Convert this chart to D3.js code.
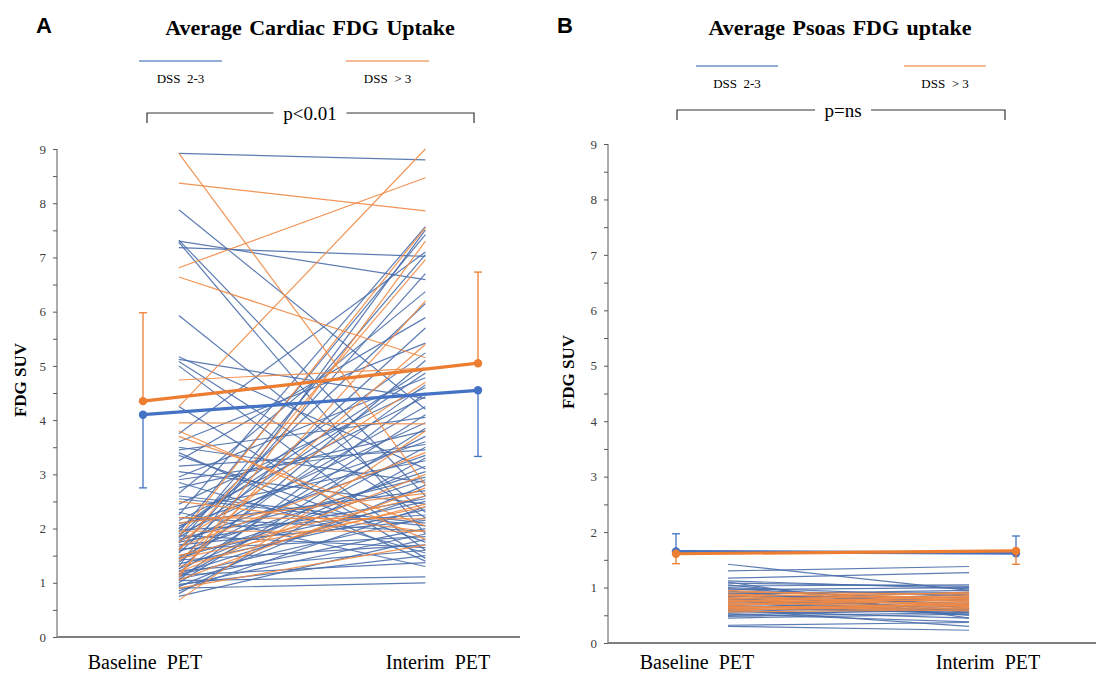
<!DOCTYPE html>
<html>
<head>
<meta charset="utf-8">
<script src="https://cdn.jsdelivr.net/npm/d3@7"></script>
<style>
  body { margin: 0; background: #fff; }
  svg text { font-family: "Liberation Serif", "Times New Roman", serif; }
</style>
</head>
<body>
<svg id="chart" width="1096" height="675"></svg>
<script>
// ---- data ----
var timepoints = ['Baseline  PET', 'Interim  PET'];
var groups = ['DSS  2-3', 'DSS  > 3'];
var yTicks = [0, 1, 2, 3, 4, 5, 6, 7, 8, 9];

// cardiac: [baseline, interim] per patient
var cardiacBlue = [
  [8.92, 8.80], [7.88, 4.20], [7.32, 2.60], [7.30, 6.59], [7.28, 1.90], [7.18, 7.02],
  [5.93, 2.30], [5.17, 3.10], [5.12, 4.40], [5.08, 2.20], [5.00, 1.60], [4.25, 1.45],
  [3.75, 7.10], [3.60, 5.42], [3.50, 2.85], [3.45, 4.05], [3.35, 1.75], [3.25, 5.89],
  [3.15, 3.45], [3.05, 2.45], [2.95, 4.78], [2.85, 1.55], [2.75, 3.80], [2.65, 6.37],
  [2.55, 2.05], [2.45, 4.60], [2.35, 3.25], [2.25, 7.57], [2.20, 1.95], [2.15, 4.43],
  [2.10, 2.70], [2.05, 3.60], [2.00, 5.24], [1.97, 2.25], [1.93, 7.42], [1.90, 3.95],
  [1.87, 1.65], [1.83, 4.87], [1.80, 2.95], [1.77, 3.35], [1.73, 7.05], [1.70, 2.15],
  [1.66, 4.25], [1.62, 1.85], [1.58, 3.05], [1.55, 5.70], [1.50, 2.50], [1.46, 3.70],
  [1.42, 1.70], [1.38, 4.65], [1.35, 2.35], [1.30, 7.51], [1.26, 3.15], [1.22, 1.60],
  [1.20, 4.10], [1.17, 2.60], [1.14, 1.37], [1.10, 3.50], [1.07, 2.00], [1.04, 1.11],
  [1.00, 3.85], [0.97, 1.50], [0.93, 2.80], [0.90, 1.00], [0.85, 2.40], [0.80, 3.30],
  [0.75, 1.80], [2.00, 4.95], [1.85, 6.15], [1.45, 2.90], [1.25, 5.10], [1.05, 4.50],
  [2.60, 2.10], [3.40, 1.40], [2.30, 1.30], [1.60, 6.70], [2.90, 3.55], [1.15, 2.20],
  [0.95, 1.90], [1.75, 2.55]
];
var cardiacOrange = [
  [8.92, 2.80], [8.37, 7.86], [4.25, 9.00], [6.81, 8.47], [6.64, 5.15], [4.74, 4.96],
  [3.95, 3.93], [3.80, 1.80], [2.20, 2.18], [1.95, 1.95], [1.85, 7.55], [1.60, 6.96],
  [1.50, 2.60], [1.40, 5.40], [1.30, 2.45], [1.20, 3.00], [1.10, 7.30], [0.68, 3.80],
  [1.75, 4.70], [2.10, 2.65], [1.15, 6.20], [2.50, 1.95], [1.05, 2.75], [1.65, 3.40],
  [3.70, 2.05], [1.45, 2.40], [0.90, 1.70]
];
var cardiacMeanBlue = [4.10, 4.55];
var cardiacErrBlue = [2.75, 3.33];
var cardiacMeanOrange = [4.35, 5.05];
var cardiacErrOrange = [5.98, 6.73];

// psoas
var psoasBlue = [
  [1.42, 0.95], [1.30, 1.38], [1.17, 1.27], [1.12, 0.98], [1.08, 1.02], [1.05, 0.62],
  [1.03, 1.05], [1.00, 0.85], [0.98, 0.75], [0.96, 1.00], [0.94, 0.55], [0.92, 0.90],
  [0.90, 0.70], [0.88, 0.95], [0.86, 0.60], [0.84, 0.82], [0.82, 0.50], [0.80, 0.78],
  [0.78, 0.92], [0.76, 0.65], [0.74, 0.72], [0.72, 0.58], [0.70, 0.88], [0.68, 0.52],
  [0.66, 0.68], [0.64, 0.80], [0.62, 0.55], [0.60, 0.62], [0.58, 0.45], [0.56, 0.70],
  [0.54, 0.58], [0.52, 0.38], [0.50, 0.62], [0.48, 0.55], [0.45, 0.52], [0.32, 0.37],
  [0.30, 0.23], [0.60, 0.30], [1.10, 0.45]
];
var psoasOrange = [
  [0.92, 0.88], [0.88, 0.80], [0.85, 0.90], [0.82, 0.75], [0.80, 0.85], [0.78, 0.70],
  [0.76, 0.82], [0.74, 0.78], [0.72, 0.66], [0.70, 0.74], [0.68, 0.80], [0.66, 0.62],
  [0.64, 0.70], [0.62, 0.68], [0.60, 0.64], [0.58, 0.72], [0.56, 0.60], [0.86, 0.66],
  [0.75, 0.92], [0.65, 0.58], [0.95, 0.76], [0.70, 0.84]
];
var psoasMeanBlue = [1.65, 1.62];
var psoasErrBlue = [1.97, 1.93];
var psoasMeanOrange = [1.61, 1.66];
var psoasErrOrange = [1.43, 1.42];

var BLUE = '#4472c4', ORANGE = '#ed7d31';
var LINE_BLUE = '#4a6eab', LINE_ORANGE = '#f08a45';

var svg = d3.select('#chart');

var panels = [
  {
    letter: 'A', letterX: 36, title: 'Average Cardiac FDG Uptake', titleX: 310,
    pText: 'p<0.01', pX: 310, bracket: [147, 474], bracketY: 113,
    legendY: 61, legend: [[139, 222], [346, 429]],
    axisX: 57, axisEnd: 520, yTop: 149, yBottom: 637, yLabel: [20, 380],
    meanX: [143, 478], lineSpan: [0.107, 0.843], labelX: [145, 438],
    blue: cardiacBlue, orange: cardiacOrange,
    meanBlue: cardiacMeanBlue, errBlue: cardiacErrBlue,
    meanOrange: cardiacMeanOrange, errOrange: cardiacErrOrange
  },
  {
    letter: 'B', letterX: 557, title: 'Average Psoas FDG uptake', titleX: 840,
    pText: 'p=ns', pX: 843, bracket: [677, 1005], bracketY: 110,
    legendY: 66, legend: [[696, 778], [904, 986]],
    axisX: 608, axisEnd: 1096, yTop: 144, yBottom: 643, yLabel: [568, 372],
    meanX: [676, 1016], lineSpan: [0.153, 0.862], labelX: [697, 988],
    blue: psoasBlue, orange: psoasOrange,
    meanBlue: psoasMeanBlue, errBlue: psoasErrBlue,
    meanOrange: psoasMeanOrange, errOrange: psoasErrOrange
  }
];

panels.forEach(drawPanel);

function drawPanel(p) {
  var g = svg.append('g');
  var y = d3.scaleLinear().domain([0, 9]).range([p.yBottom, p.yTop]);
  var x = d3.scaleLinear().domain([0, 1]).range(p.meanX);

  // header
  g.append('text').attr('x', p.letterX).attr('y', 33)
    .style('font-family', '"Liberation Sans", Arial, sans-serif')
    .style('font-weight', 'bold').style('font-size', '22px')
    .text(p.letter);
  g.append('text').attr('x', p.titleX).attr('y', 35)
    .attr('text-anchor', 'middle')
    .style('font-weight', 'bold').style('font-size', '22px')
    .style('word-spacing', '2px')
    .text(p.title);

  // legend
  p.legend.forEach(function(seg, i) {
    g.append('line')
      .attr('x1', seg[0]).attr('x2', seg[1])
      .attr('y1', p.legendY).attr('y2', p.legendY)
      .style('stroke', i === 0 ? '#6f93c9' : '#f0a36c')
      .style('stroke-width', 1.5);
    g.append('text')
      .attr('x', (seg[0] + seg[1]) / 2).attr('y', p.legendY + 22)
      .attr('text-anchor', 'middle')
      .style('font-size', '13px')
      .style('white-space', 'pre')
      .text(groups[i]);
  });

  // significance bracket
  var pw = p.pText.length * 8.5 + 22;
  g.append('path')
    .attr('d', 'M' + p.bracket[0] + ',' + (p.bracketY + 10) + 'V' + p.bracketY + 'H' + (p.pX - pw / 2))
    .style('fill', 'none').style('stroke', '#333').style('stroke-width', 1.2);
  g.append('path')
    .attr('d', 'M' + (p.pX + pw / 2) + ',' + p.bracketY + 'H' + p.bracket[1] + 'V' + (p.bracketY + 10))
    .style('fill', 'none').style('stroke', '#333').style('stroke-width', 1.2);
  g.append('text').attr('x', p.pX).attr('y', p.bracketY + 7)
    .attr('text-anchor', 'middle')
    .style('font-size', '19px')
    .text(p.pText);

  // axes
  var yAxis = d3.axisLeft(y)
    .tickValues(d3.range(0, 9.01, 0.5))
    .tickSize(4)
    .tickPadding(7)
    .tickFormat(function(d) { return yTicks.indexOf(d) >= 0 ? d : ''; });
  var ya = g.append('g').attr('transform', 'translate(' + p.axisX + ',0)').call(yAxis);
  ya.select('.domain').attr('d', 'M0,' + p.yTop + 'V' + p.yBottom).style('stroke', '#595959');
  ya.selectAll('.tick line').style('stroke', '#595959');
  ya.selectAll('.tick text')
    .style('font-family', '"Liberation Serif", serif')
    .style('font-size', '13px').style('fill', '#404040');

  g.append('line')
    .attr('x1', p.axisX).attr('x2', p.axisEnd)
    .attr('y1', y(0)).attr('y2', y(0))
    .style('stroke', '#7f7f7f').style('stroke-width', 2);

  g.append('text')
    .attr('transform', 'translate(' + (p.yLabel[0] + 6) + ',' + p.yLabel[1] + ') rotate(-90)')
    .attr('text-anchor', 'middle')
    .style('font-weight', 'bold').style('font-size', '17px')
    .text('FDG SUV');

  timepoints.forEach(function(t, i) {
    g.append('text')
      .attr('x', p.labelX[i]).attr('y', 669)
      .attr('text-anchor', 'middle')
      .style('font-size', '20px')
      .style('white-space', 'pre')
      .text(t);
  });

  // individual patients
  function drawLines(data, color) {
    g.append('g').selectAll('line').data(data).enter().append('line')
      .attr('x1', x(p.lineSpan[0])).attr('x2', x(p.lineSpan[1]))
      .attr('y1', function(d) { return y(d[0]); })
      .attr('y2', function(d) { return y(d[1]); })
      .style('stroke', color)
      .style('stroke-width', 1.2)
      .style('stroke-opacity', 0.9);
  }
  drawLines(p.blue, LINE_BLUE);
  drawLines(p.orange, LINE_ORANGE);

  // group means with one-sided error bars
  function drawMean(means, errs, color) {
    var mg = g.append('g');
    means.forEach(function(m, i) {
      mg.append('line')
        .attr('x1', x(i)).attr('x2', x(i))
        .attr('y1', y(m)).attr('y2', y(errs[i]))
        .style('stroke', color).style('stroke-width', 1.3);
      mg.append('line')
        .attr('x1', x(i) - 4).attr('x2', x(i) + 4)
        .attr('y1', y(errs[i])).attr('y2', y(errs[i]))
        .style('stroke', color).style('stroke-width', 1.3);
    });
    mg.append('path')
      .datum(means)
      .attr('d', d3.line().x(function(d, i) { return x(i); }).y(function(d) { return y(d); }))
      .style('fill', 'none').style('stroke', color).style('stroke-width', 3.2);
    mg.selectAll('circle').data(means).enter().append('circle')
      .attr('cx', function(d, i) { return x(i); })
      .attr('cy', function(d) { return y(d); })
      .attr('r', 4.2)
      .style('fill', color);
  }
  drawMean(p.meanBlue, p.errBlue, BLUE);
  drawMean(p.meanOrange, p.errOrange, ORANGE);
}
</script>
</body>
</html>
